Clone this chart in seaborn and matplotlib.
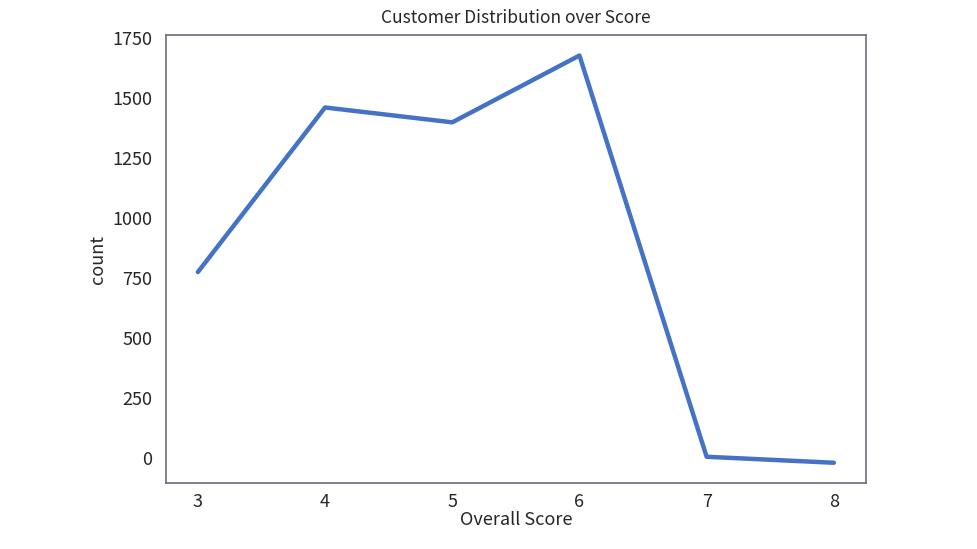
import numpy as np
import pandas as pd
import matplotlib
matplotlib.use("Agg")
import matplotlib.pyplot as plt
import seaborn as sns

scores = [3, 4, 5, 6, 7, 8]
counts = [775, 1462, 1400, 1679, 4, -21]

sns.set_style("white")
plt.rcParams['font.family'] = ['Noto Sans CJK SC', 'DejaVu Sans']

df = pd.DataFrame({'Overall Score': scores, 'count': counts})

fig = plt.figure(figsize=(9.77, 5.49), dpi=100)
ax = fig.add_axes([0.170, 0.120, 0.716, 0.816])
sns.lineplot(data=df, x='Overall Score', y='count', ax=ax, color='#4472C4', linewidth=3.2)

ax.set_yticks([0, 250, 500, 750, 1000, 1250, 1500, 1750])
ax.set_xticks(scores)
ax.tick_params(axis='both', labelsize=13, length=0)
ax.tick_params(axis='y', pad=10)
ax.tick_params(axis='x', pad=7)
ax.set_xlabel('Overall Score', fontsize=13, labelpad=0)
ax.set_ylabel('count', fontsize=13, labelpad=4)
ax.set_title('Customer Distribution over Score', fontsize=12.5, pad=9)
for s in ax.spines.values():
    s.set_color('#6b6e7d')
    s.set_linewidth(1.2)

fig.savefig('out.png', dpi=100)
